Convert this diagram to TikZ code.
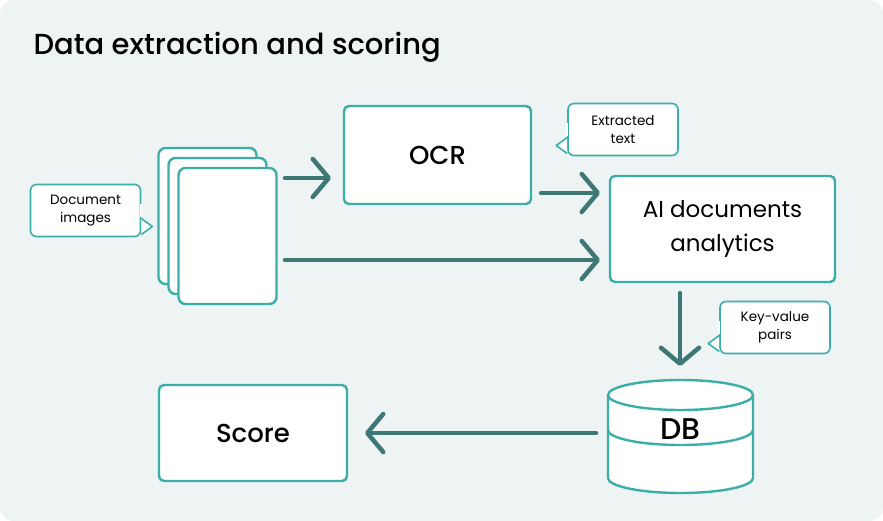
\documentclass[tikz,border=0pt]{standalone}
\usepackage{fontspec}
\setmainfont{Poppins}[BoldFont={Poppins Medium}]
\usetikzlibrary{arrows.meta,positioning,calc}
\definecolor{bgc}{HTML}{EEF3F3}
\definecolor{tealc}{HTML}{3AAFA9}
\definecolor{arrc}{HTML}{3D7876}
\tikzset{
  every picture/.append style={line width=2.4pt},
  box/.style={draw=tealc, fill=white, rounded corners=5pt, align=center, inner sep=0pt},
  page/.style={draw=tealc, fill=white, rounded corners=7pt, minimum width=98pt, minimum height=136pt},
  note/.style={draw=tealc, fill=white, rounded corners=6pt, line width=1.6pt, align=center,
               minimum width=110pt, minimum height=52pt, font=\fontsize{13.5}{18}\selectfont},
  arrow/.style={draw=arrc, line width=4.5pt, line cap=round, shorten >=2pt,
                -{Straight Barb[length=16pt,width=38pt,round]}}
}
\begin{document}
\begin{tikzpicture}[x=1pt, y=-1pt]
\fill[bgc, rounded corners=14pt] (0,0) rectangle (883,521);
\useasboundingbox (0,0) rectangle (883,521);

% title
\node[anchor=west, font=\fontsize{29}{32}\selectfont\bfseries] (title) at (29,47) {Data extraction and scoring};

% document stack
\node[page] (doc1) at (207.5,216) {};
\node[page] (doc2) at (217.5,226) {};
\node[page] (doc3) at (227.5,236) {};

% boxes
\node[box, minimum width=187pt, minimum height=98pt, font=\fontsize{26}{30}\selectfont\bfseries] (ocr) at (437.5,155) {OCR};
\node[box, minimum width=225pt, minimum height=106pt, font=\fontsize{23}{34}\selectfont] (ai) at (722.5,229) {AI documents\\analytics};
\node[box, minimum width=188pt, minimum height=96pt, font=\fontsize{26}{30}\selectfont\bfseries] (score) at (253,433) {Score};

% database
\node[minimum width=145pt, minimum height=110pt, inner sep=0pt] (db) at (680.5,436) {};
\draw[tealc, fill=white] (608,395) -- (608,478) arc[start angle=180, end angle=0, x radius=72.5, y radius=15]
  -- (753,395);
\draw[tealc, fill=white] (680.5,395) ellipse[x radius=72.5, y radius=15];
\draw[tealc] (608,430) arc[start angle=180, end angle=0, x radius=72.5, y radius=15];
\node[font=\fontsize{30}{32}\selectfont\bfseries] (dblbl) at (680.5,429) {DB};

% callouts
\node[note] (docnote) at (85.5,210.5) {Document\\images};
\node[note] (txtnote) at (623,129.5) {Extracted\\text};
\node[note] (kvnote) at (775,327.5) {Key-value\\pairs};
\path[draw=tealc, fill=white, line width=1.6pt, line join=round]
  ([yshift=-8]docnote.east) -- ++(11,8) -- ++(-11,8);
\fill[white] ([yshift=-6.5, xshift=-1]docnote.east) rectangle ([yshift=6.5, xshift=1]docnote.east);
\path[draw=tealc, fill=white, line width=1.6pt, line join=round]
  ([yshift=-8]txtnote.west) -- ++(-11,8) -- ++(11,8);
\fill[white] ([yshift=-6.5, xshift=1]txtnote.west) rectangle ([yshift=6.5, xshift=-1]txtnote.west);
\path[draw=tealc, fill=white, line width=1.6pt, line join=round]
  ([yshift=-8]kvnote.west) -- ++(-11,8) -- ++(11,8);
\fill[white] ([yshift=-6.5, xshift=1]kvnote.west) rectangle ([yshift=6.5, xshift=-1]kvnote.west);

% connectors
\coordinate (a1) at (285,178); \coordinate (b1) at (333,178);
\coordinate (a2) at (541,193); \coordinate (b2) at (602,193);
\coordinate (a3) at (285,260); \coordinate (b3) at (602,260);
\coordinate (a4) at (680,293); \coordinate (b4) at (680,368);
\coordinate (a5) at (596,433); \coordinate (b5) at (363,433);
\draw[arrow] (a1) -- (b1);
\draw[arrow] (a2) -- (b2);
\draw[arrow] (a3) -- (b3);
\draw[arrow] (a4) -- (b4);
\draw[arrow] (a5) -- (b5);
\end{tikzpicture}
\end{document}
